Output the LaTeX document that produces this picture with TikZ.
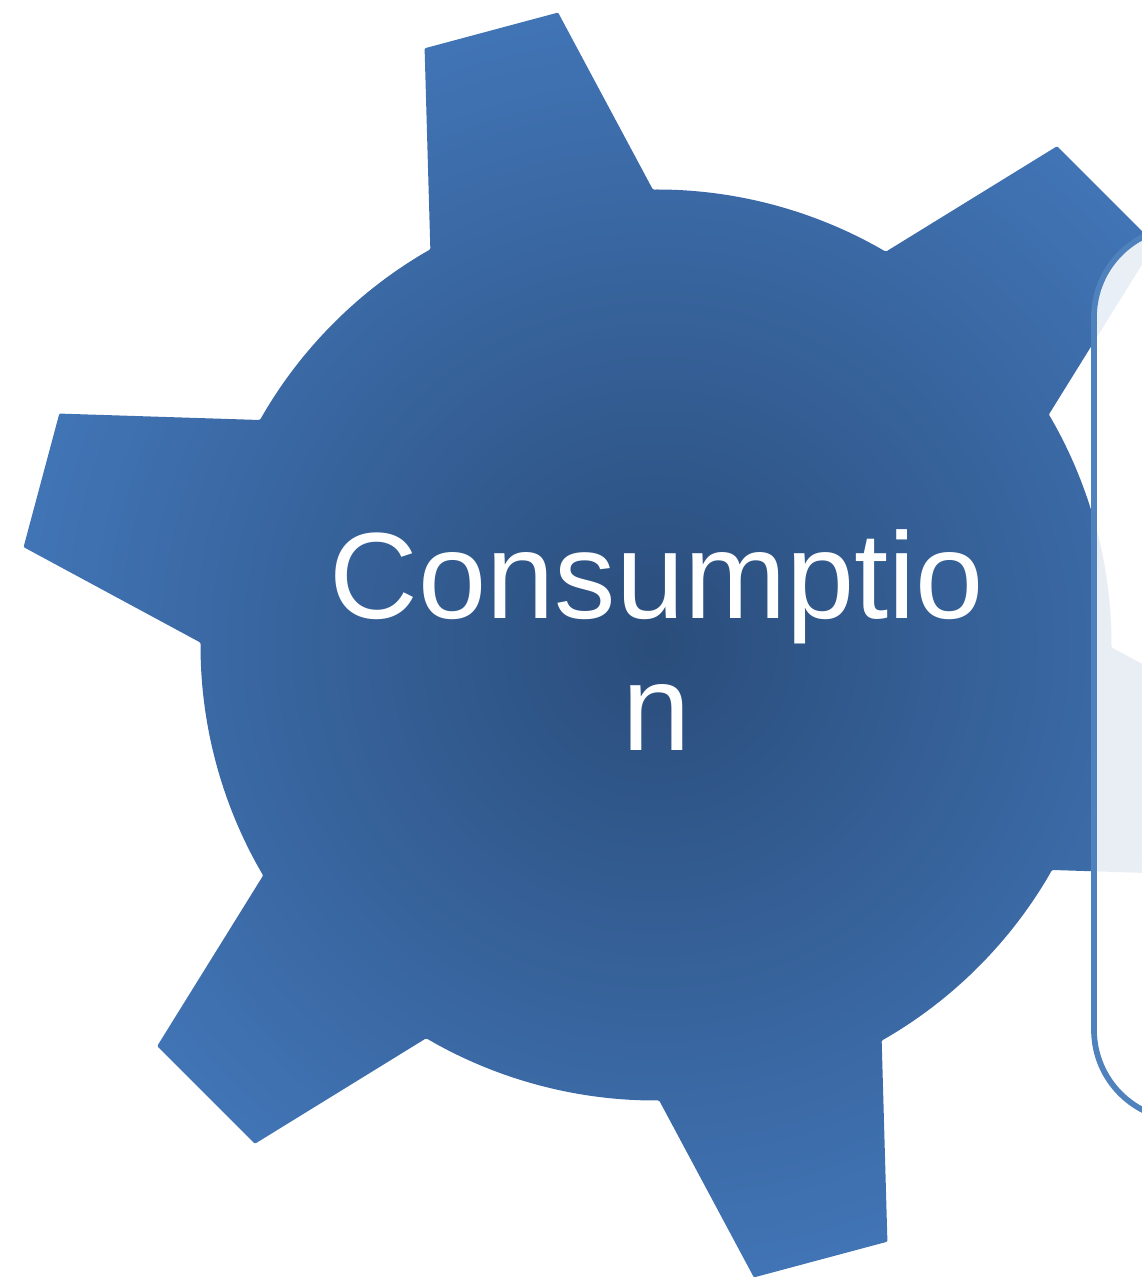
\documentclass[tikz,border=0pt]{standalone}
\usepackage{fontspec}
\setmainfont{Liberation Sans}
\definecolor{gearcore}{RGB}{42,77,123}
\definecolor{gearrim}{RGB}{65,116,181}
\definecolor{panelline}{RGB}{79,129,189}
\pgfdeclareradialshading{gearglow}{\pgfpoint{0bp}{0bp}}{color(0bp)=(gearcore); color(25bp)=(gearrim); color(50bp)=(gearrim)}
\tikzset{
  gearbody/.style={shading=gearglow,rounded corners=0.8pt},
  panelbox/.style={draw=panelline,line width=4.3pt,fill=white,fill opacity=0.89,rounded corners=67.5pt},
  gearlabel/.style={text=white,align=center,font=\fontsize{92}{99}\selectfont}
}

\begin{document}
\begin{tikzpicture}[x=0.75pt,y=0.75pt]
  \useasboundingbox (0,0) rectangle (1142,1278);
  \clip (0,0) rectangle (1142,1278);
  \coordinate (hub) at (656,633);
  \shade[gearbody] ([shift={(119.7:455.5)}]hub)
    \foreach \a in {0,-60,...,-300} {
      -- ([shift={(\a+111.2:640)}]hub)
      -- ([shift={(\a+98.8:640)}]hub)
      -- ([shift={(\a+90.4:455.5)}]hub)
      arc[start angle=\a+90.4,end angle=\a+59.7,radius=455.5]
    } -- cycle;
  \node[gearlabel] (consumption) at (657,638) {Consumptio\\n};
  \draw[panelbox] (1094,158) rectangle (1400,1051);
\end{tikzpicture}
\end{document}
